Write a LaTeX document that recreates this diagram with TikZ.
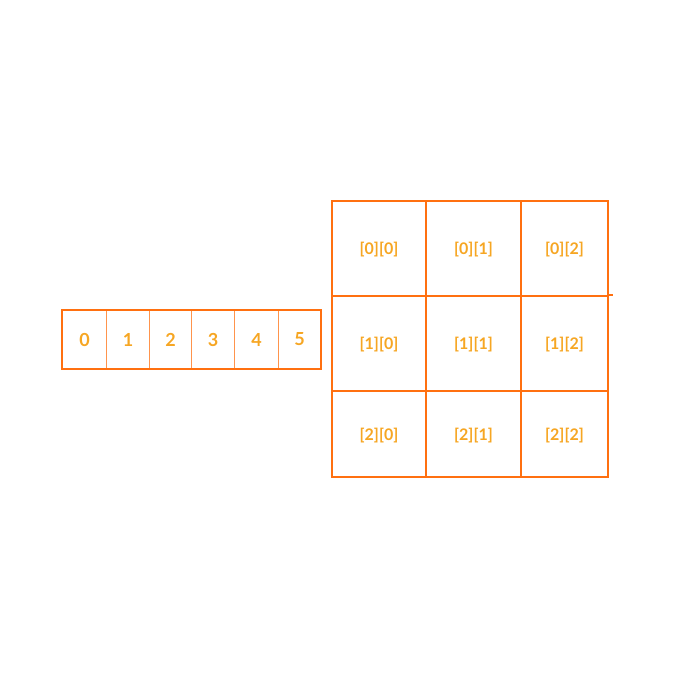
\documentclass[tikz,border=0pt]{standalone}
\usepackage{fontspec}
\setmainfont{Lato}
\usetikzlibrary{fit}
\definecolor{linecol}{RGB}{255,112,16}
\definecolor{textcol}{RGB}{246,166,35}

\begin{document}
\begin{tikzpicture}[x=1pt,y=-1pt,
cell/.style={%
anchor=north west,
draw=linecol!75,
line width=1pt,
text=textcol,
font=\fontsize{18}{20}\selectfont\bfseries,
minimum height=58pt,
inner sep=0pt
},
outer/.style={%
draw=linecol,
line width=2pt,
inner sep=0pt
},
gcell/.style={%
anchor=north west,
draw=linecol,
line width=2pt,
text=textcol,
font=\fontsize{16}{18}\selectfont\bfseries,
text depth=0pt,
inner sep=0pt
},
]
\useasboundingbox (0,0) rectangle (678,677);
%% one row
\node[cell,minimum width=44pt]at(62,310)(c0){0};
\node[cell,minimum width=43pt]at(106,310)(c1){1};
\node[cell,minimum width=42pt]at(149,310)(c2){2};
\node[cell,minimum width=43pt]at(191,310)(c3){3};
\node[cell,minimum width=44pt]at(234,310)(c4){4};
\node[cell,minimum width=42pt]at(278,310)(c5){5};
\node[outer,fit=(c0)(c5)](arr){};
%% grid
\node[gcell,minimum width=94pt,minimum height=95pt]at(331,200)(g00){[0][0]};
\node[gcell,minimum width=95pt,minimum height=95pt]at(425,200)(g01){[0][1]};
\node[gcell,minimum width=87pt,minimum height=95pt]at(520,200)(g02){[0][2]};
\node[gcell,minimum width=94pt,minimum height=95pt]at(331,295)(g10){[1][0]};
\node[gcell,minimum width=95pt,minimum height=95pt]at(425,295)(g11){[1][1]};
\node[gcell,minimum width=87pt,minimum height=95pt]at(520,295)(g12){[1][2]};
\node[gcell,minimum width=94pt,minimum height=86pt]at(331,390)(g20){[2][0]};
\node[gcell,minimum width=95pt,minimum height=86pt]at(425,390)(g21){[2][1]};
\node[gcell,minimum width=87pt,minimum height=86pt]at(520,390)(g22){[2][2]};
\draw[linecol,line width=2pt](g12.north east)--+(4,0);
\end{tikzpicture}
\end{document}
